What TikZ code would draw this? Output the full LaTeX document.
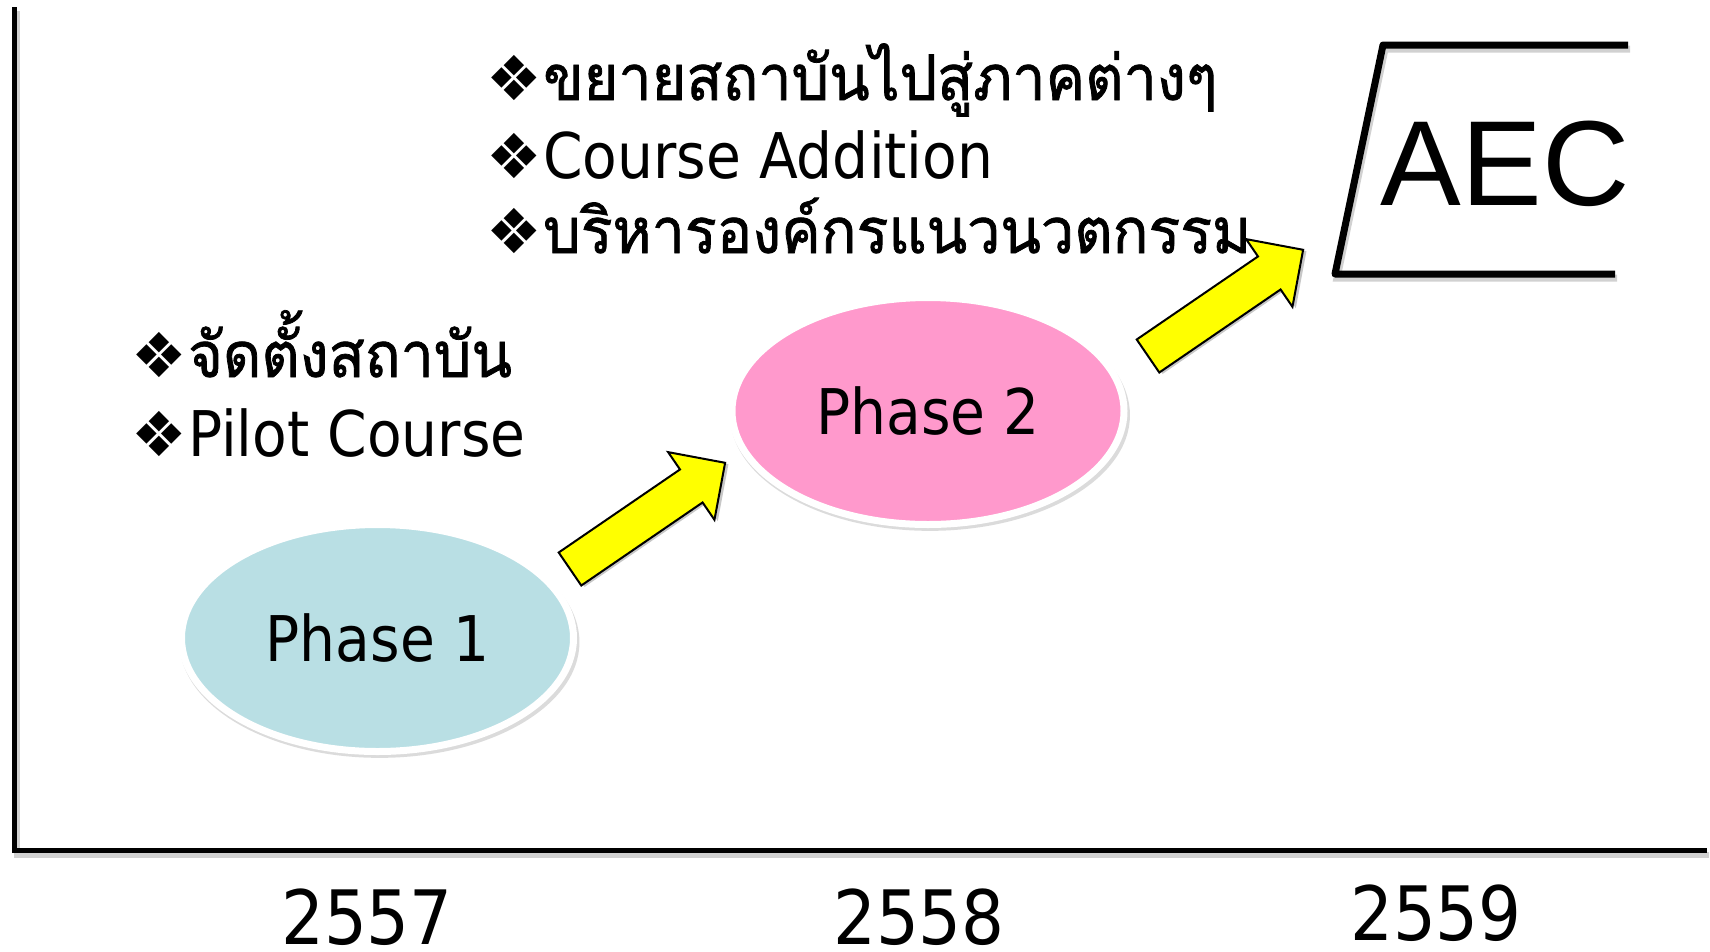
\documentclass[tikz,border=0pt]{standalone}
\usepackage{fontspec}
\usetikzlibrary{shapes.geometric,shadows}
\newfontfamily\tah[FakeStretch=0.9]{DejaVu Sans}
\newfontfamily\symf{DejaVu Sans}
\newfontfamily\thaifont[Script=Thai,FakeStretch=0.94,FakeBold=1.2]{Loma}
\newfontfamily\arialf{Liberation Sans}
\definecolor{phaseblue}{HTML}{B9DFE4}
\definecolor{phasepink}{HTML}{FF99CC}
\definecolor{arrowyellow}{HTML}{FFFF00}
\newcommand{\bul}{\makebox[55pt][l]{\hspace{-2pt}\symf\fontsize{62}{62}\selectfont ❖}}
\tikzset{
  phase/.style={ellipse, draw=white, line width=7pt, minimum width=392pt, minimum height=227pt,
    inner sep=0pt, font=\tah\fontsize{63}{63}\selectfont,
    drop shadow={opacity=0.28, shadow xshift=2pt, shadow yshift=-4pt, shadow scale=1.02}},
  bullettext/.style={anchor=base west, inner sep=0pt, font=\fontsize{63}{63}\selectfont},
  yearlabel/.style={anchor=base, inner sep=0pt, font=\tah\fontsize{75}{75}\selectfont},
  blockarrow/.style={fill=arrowyellow, draw=black, line width=2pt, line join=miter},
  axisline/.style={line width=5pt, line join=miter},
  shadowline/.style={line width=7pt, black, opacity=0.18},
}
\begin{document}
\begin{tikzpicture}[x=1pt,y=-1pt]
\fill[white] (0,0) rectangle (1710,951);
\useasboundingbox (0,0) rectangle (1710,951);
% axes
\coordinate (top) at (14.5,7);
\coordinate (origin) at (14.5,850.5);
\coordinate (right) at (1707,850.5);
\draw[shadowline, line width=6pt] ([shift={(2,4)}]top) -- ([shift={(2,4)}]origin) -- ([shift={(2,4)}]right);
\draw[axisline] (top) -- (origin) -- (right);
% phases
\node[phase, fill=phaseblue] (p1) at (377.5,638) {Phase 1};
\node[phase, fill=phasepink] (p2) at (928,411) {Phase 2};
% AEC frame
\coordinate (f1) at (1628,45);
\coordinate (f2) at (1383,45);
\coordinate (f3) at (1335,274);
\coordinate (f4) at (1615,274);
\draw[shadowline] ([shift={(2,4)}]f1) -- ([shift={(2,4)}]f2) -- ([shift={(2,4)}]f3) -- ([shift={(2,4)}]f4);
\draw[line width=7pt, line join=round] (f1) -- (f2) -- (f3) -- (f4);
\node[anchor=base, inner sep=0pt, font=\arialf\fontsize{121}{121}\selectfont] (aec) at (1505,205) {AEC};
% block arrows
\coordinate (a1s) at (570,569);
\coordinate (a1e) at (725,463);
\coordinate (a2s) at (1148,356);
\coordinate (a2e) at (1303,250);
\foreach \s in {a1s,a2s}{
  \begin{scope}[shift={(\s)}, rotate=34.4]
    \fill[black, opacity=0.22, shift={(2,3)}] (0,-20) -- (147,-20) -- (147,-41) -- (188,0) -- (147,41) -- (147,20) -- (0,20) -- cycle;
    \draw[blockarrow] (0,-20) -- (147,-20) -- (147,-41) -- (188,0) -- (147,41) -- (147,20) -- (0,20) -- cycle;
  \end{scope}
}
% bullet texts
\node[bullettext] (b1) at (133,377) {\bul\thaifont จัดตั้งสถาบัน};
\node[bullettext] (b2) at (133,456) {\bul\tah Pilot Course};
\node[bullettext] (t1) at (488,100) {\bul\thaifont ขยายสถาบันไปสู่ภาคต่างๆ};
\node[bullettext] (t2) at (488,178) {\bul\tah Course Addition};
\node[bullettext] (t3) at (488,253) {\bul\thaifont บริหารองค์กรแนวนวตกรรม};
% years
\node[yearlabel] (y1) at (367,944) {2557};
\node[yearlabel] (y2) at (919,944) {2558};
\node[yearlabel] (y3) at (1436,940) {2559};
\end{tikzpicture}
\end{document}
